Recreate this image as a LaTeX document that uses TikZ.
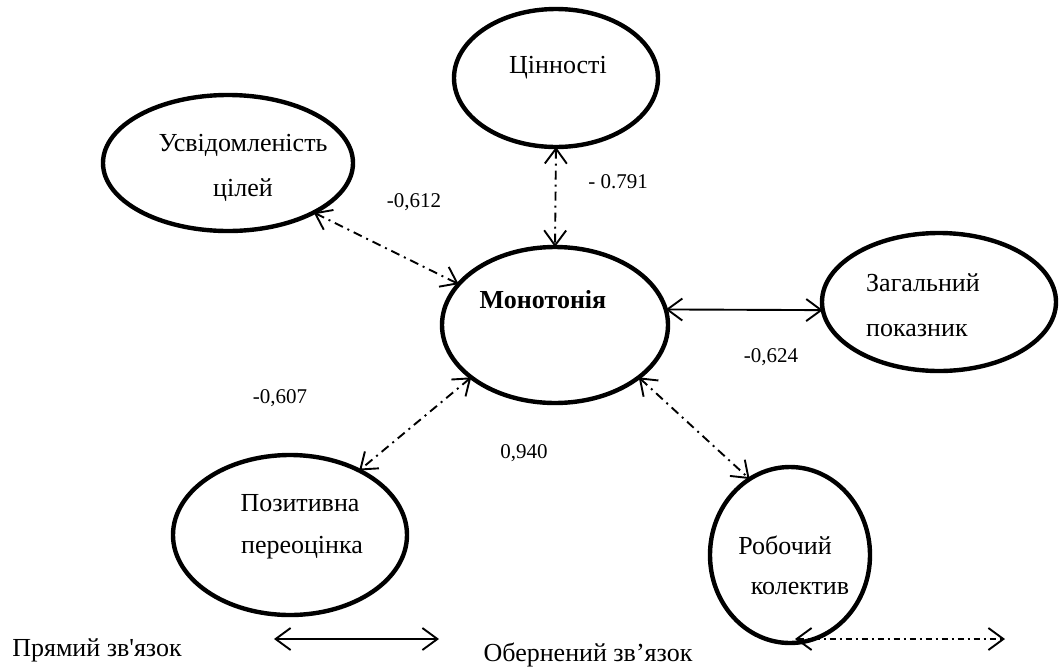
\documentclass[tikz,border=0pt]{standalone}
\usepackage{fontspec}
\setmainfont{Liberation Serif}
\newfontfamily\plainserif{Liberation Serif}
\usetikzlibrary{shapes.geometric,arrows.meta}
\begin{document}
\begin{tikzpicture}[x=1pt,y=-1pt,
  oval/.style={ellipse,draw,line width=4.4pt,inner sep=0pt,outer sep=0pt},
  lbl/.style={font=\fontsize{26}{30}\selectfont,inner sep=0pt,align=center},
  num/.style={font=\fontsize{21}{24}\selectfont,inner sep=0pt},
  conn/.style={line width=1.9pt,{Straight Barb[length=15pt,width=22pt]}-{Straight Barb[length=15pt,width=22pt]}},
  inv/.style={conn,dash pattern=on 9pt off 5pt on 2pt off 5pt}]
\useasboundingbox (0,0) rectangle (1063,670);

% ovals
\node[oval,minimum width=204pt,minimum height=138pt] (cin) at (556,78) {};
\node[oval,minimum width=250pt,minimum height=136pt] (usv) at (228,163) {};
\node[oval,minimum width=226pt,minimum height=156pt] (mono) at (555,325) {};
\node[oval,minimum width=234pt,minimum height=138pt] (zag) at (939,302) {};
\node[oval,minimum width=234pt,minimum height=160pt] (poz) at (290,535) {};
\node[oval,minimum width=160pt,minimum height=176pt] (rob) at (790,555) {};

% oval captions
\node[lbl] (cinT) at (558,68) {Цінності};
\node[lbl] (usvT) at (243,145) {Усвідомленість};
\node[lbl] (usvT2) at (243,190) {цілей};
\node[lbl,font=\fontsize{26}{30}\selectfont\bfseries] (monoT) at (543,300) {Монотонія};
\node[lbl,anchor=west] (zagT) at (866,283) {Загальний};
\node[lbl,anchor=west] (zagT2) at (866,330) {показник};
\node[lbl] (pozT) at (300,503) {Позитивна};
\node[lbl] (pozT2) at (302,548) {переоцінка};
\node[lbl] (robT) at (785,545) {Робочий};
\node[lbl] (robT2) at (800,588) {колектив};

% coefficients
\node[num] (n1) at (414,202) {-0,612};
\node[num] (n2) at (618,182) {- 0.791};
\node[num] (n3) at (771,357) {-0,624};
\node[num] (n4) at (280,398) {-0,607};
\node[num] (n5) at (524,453) {0,940};

% links
\draw[inv] (usv.-30) -- (mono.157);
\draw[inv] (cin.-90) -- (mono.90);
\draw[conn] (mono.8) -- (zag.184);
\draw[inv] (mono.212) -- (poz.43);
\draw[inv] (mono.-32) -- (rob.118);

% legend
\node[lbl,font=\fontsize{26}{30}\plainserif] (legA) at (97,650) {Прямий зв'язок};
\coordinate (la1) at (274,639);
\coordinate (la2) at (439,639);
\draw[conn] (la1) -- (la2);
\node[lbl] (legB) at (588,655) {Обернений зв’язок};
\coordinate (lb1) at (795,639);
\coordinate (lb2) at (1005,639);
\draw[inv,dash pattern=on 6pt off 4pt on 2pt off 4pt] (lb1) -- (lb2);
\end{tikzpicture}
\end{document}
